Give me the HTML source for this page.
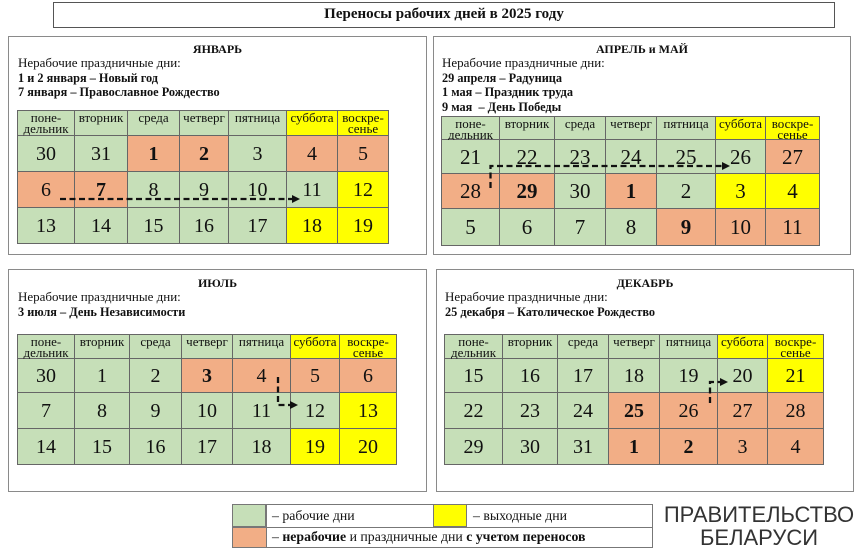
<!DOCTYPE html>
<html><head><meta charset="utf-8">
<style>
*{margin:0;padding:0;box-sizing:border-box}
body{width:865px;height:558px;background:#fff;position:relative;overflow:hidden;font-family:"Liberation Serif","Noto Serif CJK SC",serif;color:#111}
.abs{position:absolute}
.title{left:53px;top:2px;width:782px;height:26px;border:1px solid #555;text-align:center;font-weight:bold;font-size:15px;line-height:23px}
.panel{position:absolute;border:1.5px solid #8a8a8a;background:#fff}
.ph{position:absolute;left:0;right:0;top:5px;text-align:center;font-weight:bold;font-size:12px;line-height:14px}
.pt{position:absolute;top:19px;font-size:13px;line-height:14.5px;white-space:nowrap}
.pt b{font-size:12.3px}
.grid{position:absolute;display:grid;border-top:1px solid #666;border-left:1px solid #666}
.grid div{border-right:1px solid #666;border-bottom:1px solid #666;display:flex;align-items:center;justify-content:center;font-size:20px;line-height:20px}
.grid div.h{align-items:flex-start;font-size:13px;line-height:11px;text-align:center;padding-top:1px}
.g{background:#c6dfb8}
.o{background:#f2ae86}
.y{background:#ffff00}
.grid div.b{font-weight:bold}
.apr div{font-size:21px}
.leg{left:232px;top:504px;width:421px;height:44px;border:1px solid #777}
.leg div{position:absolute}
.lt{font-size:13.8px;line-height:22px;white-space:nowrap}
.logo{position:absolute;font-family:"Liberation Sans",sans-serif;color:#333;font-size:22px;line-height:22px;text-align:center;white-space:nowrap}
</style></head>
<body>
<div class="abs title">Переносы рабочих дней в 2025 году</div>

<!-- January -->
<div class="panel" style="left:8px;top:36px;width:419px;height:219px">
  <div class="ph">ЯНВАРЬ</div>
  <div class="pt" style="left:9px">Нерабочие праздничные дни:<br><b>1 и 2 января – Новый год</b><br><b>7 января – Православное Рождество</b></div>
</div>
<div class="grid" style="left:17px;top:110px;grid-template-columns:57px 53px 52px 49px 58px 51px 51px;grid-template-rows:25px 36px 36px 36px">
  <div class="h g">поне-<br>дельник</div><div class="h g">вторник</div><div class="h g">среда</div><div class="h g">четверг</div><div class="h g">пятница</div><div class="h y">суббота</div><div class="h y">воскре-<br>сенье</div>
  <div class="g">30</div><div class="g">31</div><div class="o b">1</div><div class="o b">2</div><div class="g">3</div><div class="o">4</div><div class="o">5</div>
  <div class="o">6</div><div class="o b">7</div><div class="g">8</div><div class="g">9</div><div class="g">10</div><div class="g">11</div><div class="y">12</div>
  <div class="g">13</div><div class="g">14</div><div class="g">15</div><div class="g">16</div><div class="g">17</div><div class="y">18</div><div class="y">19</div>
</div>

<!-- April / May -->
<div class="panel" style="left:433px;top:36px;width:418px;height:219px">
  <div class="ph">АПРЕЛЬ и МАЙ</div>
  <div class="pt" style="left:8px">Нерабочие праздничные дни:<br><b>29 апреля – Радуница</b><br><b>1 мая – Праздник труда</b><br><b>9 мая &nbsp;– День Победы</b></div>
</div>
<div class="grid apr" style="left:441px;top:116px;grid-template-columns:58px 55px 51px 51px 59px 50px 54px;grid-template-rows:23px 34px 35px 37px">
  <div class="h g">поне-<br>дельник</div><div class="h g">вторник</div><div class="h g">среда</div><div class="h g">четверг</div><div class="h g">пятница</div><div class="h y">суббота</div><div class="h y">воскре-<br>сенье</div>
  <div class="g">21</div><div class="g">22</div><div class="g">23</div><div class="g">24</div><div class="g">25</div><div class="g">26</div><div class="o">27</div>
  <div class="o">28</div><div class="o b">29</div><div class="g">30</div><div class="o b">1</div><div class="g">2</div><div class="y">3</div><div class="y">4</div>
  <div class="g">5</div><div class="g">6</div><div class="g">7</div><div class="g">8</div><div class="o b">9</div><div class="o">10</div><div class="o">11</div>
</div>

<!-- July -->
<div class="panel" style="left:8px;top:269px;width:419px;height:223px">
  <div class="ph" style="top:6px">ИЮЛЬ</div>
  <div class="pt" style="left:9px;top:20px">Нерабочие праздничные дни:<br><b>3 июля – День Независимости</b></div>
</div>
<div class="grid" style="left:17px;top:334px;grid-template-columns:57px 55px 52px 51px 58px 49px 57px;grid-template-rows:24px 34px 36px 36px">
  <div class="h g">поне-<br>дельник</div><div class="h g">вторник</div><div class="h g">среда</div><div class="h g">четверг</div><div class="h g">пятница</div><div class="h y">суббота</div><div class="h y">воскре-<br>сенье</div>
  <div class="g">30</div><div class="g">1</div><div class="g">2</div><div class="o b">3</div><div class="o">4</div><div class="o">5</div><div class="o">6</div>
  <div class="g">7</div><div class="g">8</div><div class="g">9</div><div class="g">10</div><div class="g">11</div><div class="g">12</div><div class="y">13</div>
  <div class="g">14</div><div class="g">15</div><div class="g">16</div><div class="g">17</div><div class="g">18</div><div class="y">19</div><div class="y">20</div>
</div>

<!-- December -->
<div class="panel" style="left:436px;top:269px;width:418px;height:223px">
  <div class="ph" style="top:6px">ДЕКАБРЬ</div>
  <div class="pt" style="left:8px;top:20px">Нерабочие праздничные дни:<br><b>25 декабря – Католическое Рождество</b></div>
</div>
<div class="grid" style="left:444px;top:334px;grid-template-columns:58px 55px 51px 51px 58px 50px 56px;grid-template-rows:24px 34px 36px 36px">
  <div class="h g">поне-<br>дельник</div><div class="h g">вторник</div><div class="h g">среда</div><div class="h g">четверг</div><div class="h g">пятница</div><div class="h y">суббота</div><div class="h y">воскре-<br>сенье</div>
  <div class="g">15</div><div class="g">16</div><div class="g">17</div><div class="g">18</div><div class="g">19</div><div class="g">20</div><div class="y">21</div>
  <div class="g">22</div><div class="g">23</div><div class="g">24</div><div class="o b">25</div><div class="o">26</div><div class="o">27</div><div class="o">28</div>
  <div class="g">29</div><div class="g">30</div><div class="g">31</div><div class="o b">1</div><div class="o b">2</div><div class="o">3</div><div class="o">4</div>
</div>

<!-- arrows -->
<svg class="abs" style="left:0;top:0" width="865" height="558" viewBox="0 0 865 558">
  <g fill="none" stroke="#111" stroke-width="2.3" stroke-dasharray="6 3.5">
    <path d="M60 199 L292 199"/>
    <path d="M490.5 188 L490.5 166 L722 166"/>
    <path d="M278 377 L278 405 L291 405"/>
    <path d="M710 403 L710 382 L721 382"/>
  </g>
  <g fill="#111">
    <polygon points="292,195 300,199 292,203"/>
    <polygon points="722,162 730,166 722,170"/>
    <polygon points="290,401 298,405 290,409"/>
    <polygon points="720,378 728,382 720,386"/>
  </g>
</svg>

<!-- legend -->
<div class="abs leg">
  <div class="g" style="left:0;top:0;width:33px;height:22px;border-right:1px solid #777;border-bottom:1px solid #777"></div>
  <div class="lt" style="left:39px;top:0">– рабочие дни</div>
  <div class="y" style="left:200px;top:0;width:34px;height:22px;border-left:1px solid #777;border-right:1px solid #777;border-bottom:1px solid #777"></div>
  <div class="lt" style="left:240px;top:0">– выходные дни</div>
  <div style="left:33px;top:0;width:1px;height:42px;background:#777"></div>
  <div style="left:0;top:22px;width:419px;height:1px;background:#777"></div>
  <div class="o" style="left:0;top:23px;width:33px;height:19px"></div>
  <div class="lt" style="left:39px;top:21px">– <b>нерабочие</b> и праздничные дни <b>с учетом переносов</b></div>
</div>

<div class="logo" style="left:660px;top:504px;width:198px">ПРАВИТЕЛЬСТВО</div>
<div class="logo" style="left:660px;top:527px;width:198px">БЕЛАРУСИ</div>
</body></html>
